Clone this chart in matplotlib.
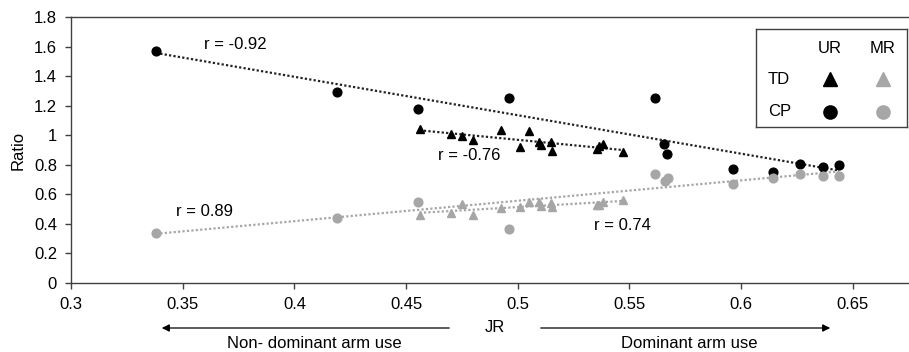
import numpy as np
import matplotlib
matplotlib.use("Agg")
import matplotlib.pyplot as plt
from matplotlib.ticker import FuncFormatter

plt.rcParams['font.family'] = ['Liberation Sans', 'DejaVu Sans']

# JR / Ratio values
# TD group (triangles): UR (black) and MR (grey) share the JR values
td_jr = [0.456, 0.470, 0.4749, 0.4798, 0.4925, 0.501, 0.5049, 0.5096,
         0.5102, 0.5149, 0.5152, 0.5356, 0.5362, 0.5383, 0.547]
td_ur = [1.043, 1.01, 0.993, 0.971, 1.039, 0.921, 1.03, 0.957,
         0.934, 0.957, 0.894, 0.907, 0.925, 0.943, 0.884]
td_mr = [0.46, 0.472, 0.533, 0.46, 0.506, 0.513, 0.549, 0.544,
         0.517, 0.54, 0.513, 0.527, 0.53, 0.546, 0.558]

# CP group (circles)
cp_jr_ur = [0.338, 0.419, 0.4555, 0.496, 0.5612, 0.5656, 0.567, 0.5965,
            0.6142, 0.6262, 0.6366, 0.6439]
cp_ur = [1.569, 1.295, 1.18, 1.252, 1.252, 0.943, 0.871, 0.771,
         0.751, 0.807, 0.785, 0.798]
cp_jr_mr = [0.338, 0.419, 0.4555, 0.496, 0.5614, 0.5659, 0.5674, 0.5965,
            0.6142, 0.6262, 0.6366, 0.6439]
cp_mr = [0.34, 0.442, 0.549, 0.367, 0.735, 0.69, 0.708, 0.671,
         0.71, 0.735, 0.721, 0.721]

r_labels = ['r = -0.92', 'r = 0.89', 'r = -0.76', 'r = 0.74']

black = 'black'
grey = '#a6a6a6'

W, H = 909, 352
fig = plt.figure(figsize=(W / 100, H / 100), dpi=100)
ax = fig.add_axes([71 / W, (H - 282.7) / H, (W - 71) / W, 265.4 / H])


def trend(x, y, color):
    x = np.asarray(x)
    k, b = np.polyfit(x, y, 1)
    xs = np.array([x.min(), x.max()])
    ax.plot(xs, k * xs + b, linestyle=(0, (1, 1)), color=color, lw=1.6, zorder=2)


trend(cp_jr_ur, cp_ur, '#222222')
trend(cp_jr_mr, cp_mr, grey)
trend(td_jr, td_ur, '#222222')
trend(td_jr, td_mr, grey)

ms = 6.3
ax.plot(cp_jr_ur, cp_ur, 'o', color=black, ms=ms, zorder=3)
ax.plot(cp_jr_mr, cp_mr, 'o', color=grey, ms=ms, zorder=3)
ax.plot(td_jr, td_ur, '^', color=black, ms=ms, zorder=3)
ax.plot(td_jr, td_mr, '^', color=grey, ms=ms, zorder=3)

fs = 12
ax.text(0.3595, 1.617, r_labels[0], fontsize=fs, va='center')
ax.text(0.347, 0.481, r_labels[1], fontsize=fs, va='center')
ax.text(0.4643, 0.862, r_labels[2], fontsize=fs, va='center')
ax.text(0.534, 0.385, r_labels[3], fontsize=fs, va='center')

ax.set_xlim(0.3, 0.3 + (W - 71) / 2234)
ax.set_ylim(0, 1.8)
ax.set_xticks(np.arange(0.3, 0.651, 0.05))
ax.set_yticks(np.arange(0, 1.81, 0.2))
fmt = FuncFormatter(lambda v, p: '%g' % round(v, 2))
ax.xaxis.set_major_formatter(fmt)
ax.yaxis.set_major_formatter(fmt)
ax.tick_params(direction='out', length=4, width=1, color='#404040',
               labelsize=fs, pad=6)
ax.spines['right'].set_visible(False)
for s in ['left', 'bottom', 'top']:
    ax.spines[s].set_color('#404040')
    ax.spines[s].set_linewidth(1)
ax.set_ylabel('Ratio', fontsize=fs, labelpad=6)

# legend box
lg = fig.add_axes([755.7 / W, (H - 126.7) / H, 151 / W, 97.4 / H])
lg.set_xlim(0, 151)
lg.set_ylim(97.4, 0)
lg.set_xticks([])
lg.set_yticks([])
for s in lg.spines.values():
    s.set_color('#404040')
    s.set_linewidth(1)
lg.text(74.3, 19, 'UR', ha='center', va='center', fontsize=fs)
lg.text(127, 19, 'MR', ha='center', va='center', fontsize=fs)
lg.text(12.3, 50, 'TD', ha='left', va='center', fontsize=fs)
lg.text(12.3, 82.4, 'CP', ha='left', va='center', fontsize=fs)
lg.plot([74.3], [50], '^', color=black, ms=10)
lg.plot([127], [50], '^', color=grey, ms=10)
lg.plot([74.3], [82.4], 'o', color=black, ms=9.5)
lg.plot([127], [82.4], 'o', color=grey, ms=9.5)

# bottom arrows and captions
ya = (H - 328) / H
fig.text(495 / W, ya, 'JR', ha='center', va='center', fontsize=fs)
arrow = dict(arrowstyle='-|>', color='black', lw=0.9, mutation_scale=11)
fig.add_artist(matplotlib.patches.FancyArrowPatch(
    (452 / W, ya), (159 / W, ya), transform=fig.transFigure, **arrow))
fig.add_artist(matplotlib.patches.FancyArrowPatch(
    (538 / W, ya), (833 / W, ya), transform=fig.transFigure, **arrow))
yb = (H - 343) / H
fig.text(314 / W, yb, 'Non- dominant arm use', ha='center', va='center', fontsize=fs)
fig.text(689 / W, yb, 'Dominant arm use', ha='center', va='center', fontsize=fs)

fig.savefig('out.png', dpi=100)
